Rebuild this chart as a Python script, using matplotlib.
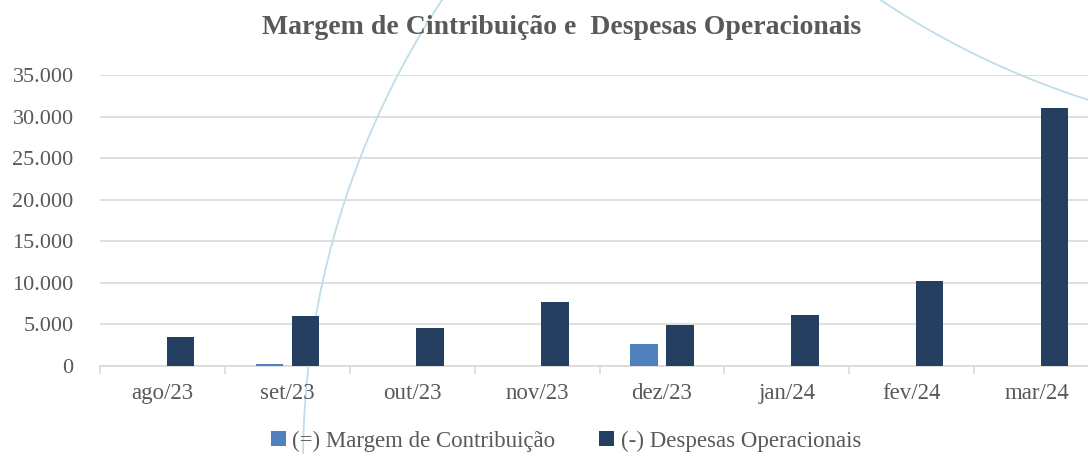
import numpy as np
import matplotlib
matplotlib.use('Agg')
import matplotlib.pyplot as plt
from matplotlib.patches import Arc
from matplotlib.ticker import FuncFormatter, FixedLocator

# data
meses = ['ago/23', 'set/23', 'out/23', 'nov/23', 'dez/23', 'jan/24', 'fev/24', 'mar/24']
margem = [0, 280, 0, 0, 2610, 0, 0, 0]
despesas = [3490, 6010, 4570, 7660, 4930, 6170, 10220, 31030]
legendas = ['(=) Margem de Contribuição', '(-) Despesas Operacionais']
titulo = 'Margem de Cintribuição e  Despesas Operacionais'

cor_margem = '#4F81BD'
cor_desp = '#243F60'
cinza = '#595959'
grade = '#D9D9D9'

plt.rcParams['font.family'] = ['Liberation Serif', 'DejaVu Serif']

W, H = 1088, 454
fig = plt.figure(figsize=(W / 100, H / 100), dpi=100)

# decorative background arcs (template decoration, pixel coords)
bg = fig.add_axes([0, 0, 1, 1], zorder=0)
bg.set_xlim(0, W)
bg.set_ylim(H, 0)
bg.axis('off')
bg.add_patch(Arc((1140, 462), 2 * 837, 2 * 837, color='#BFDDEB', lw=1.3))
bg.add_patch(Arc((1340, -690), 2 * 829, 2 * 829, color='#BFDDEB', lw=1.3))

ax = fig.add_axes([100 / W, (H - 366) / H, 999 / W, 291 / H], zorder=1)
ax.patch.set_alpha(0)

x = np.arange(len(meses))
w = 0.22
off = 0.144
ax.bar(x - off, margem, w, color=cor_margem, label=legendas[0], zorder=3)
ax.bar(x + off, despesas, w, color=cor_desp, label=legendas[1], zorder=3)

ax.set_xlim(-0.5, len(meses) - 0.5)
ax.set_ylim(0, 35000)
ax.set_yticks(np.arange(0, 35001, 5000))
ax.yaxis.set_major_formatter(FuncFormatter(lambda v, p: f'{int(v):,}'.replace(',', '.')))
ax.grid(axis='y', color=grade, lw=1.2, zorder=0)
ax.tick_params(axis='y', length=0, pad=19, labelsize=16, labelcolor=cinza)

ax.set_xticks(x)
ax.set_xticklabels(meses)
ax.tick_params(axis='x', which='major', length=0, pad=12, labelsize=16.5, labelcolor=cinza)
ax.xaxis.set_minor_locator(FixedLocator(np.arange(-0.5, len(meses), 1.0)))
ax.tick_params(axis='x', which='minor', length=6, width=1.2, color=grade)

for s in ['left', 'right', 'top']:
    ax.spines[s].set_visible(False)
ax.spines['bottom'].set_color(grade)
ax.spines['bottom'].set_linewidth(1.2)

fig.text(562 / W, 1 - 28 / H, titulo, ha='center', va='center',
         fontsize=20, fontweight='bold', color=cinza)

fig.legend(loc='center', bbox_to_anchor=(566 / W, 1 - 441 / H), ncol=2,
           frameon=False, fontsize=16.5, labelcolor=cinza,
           handlelength=0.65, handleheight=0.65, handletextpad=0.3,
           columnspacing=1.9)

fig.savefig('out.png', dpi=100)
